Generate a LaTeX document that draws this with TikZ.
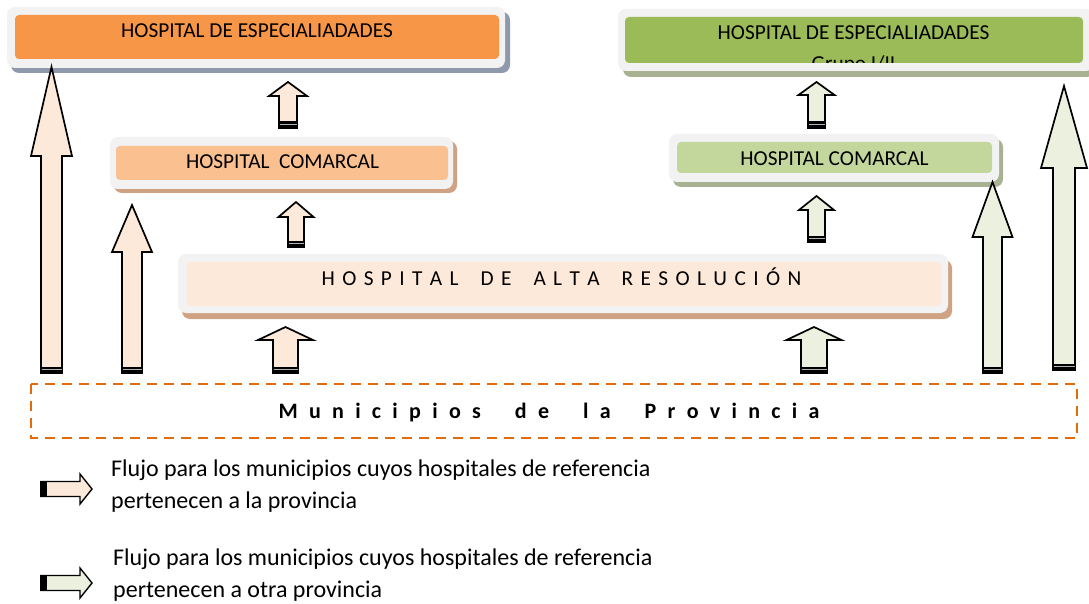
\documentclass[tikz,border=0pt]{standalone}
\usepackage{fontspec}
\setmainfont{Carlito}
\definecolor{frameC}{HTML}{F2F2F2}
\definecolor{orangeA}{HTML}{F79646}
\definecolor{orangeB}{HTML}{FAC090}
\definecolor{peach}{HTML}{FDE9D9}
\definecolor{greenA}{HTML}{9BBB59}
\definecolor{greenB}{HTML}{C3D69B}
\definecolor{paleG}{HTML}{EBF1DE}
\definecolor{shBlue}{HTML}{8E9AAB}
\definecolor{shTan}{HTML}{CFA284}
\definecolor{shGreen}{HTML}{A8B293}
\definecolor{dashO}{HTML}{E36C0A}
\newcommand{\g}{\hspace{7.4pt}}
\newcommand{\w}{\hspace{22pt}}
\newcommand{\G}{\hspace{11.3pt}}
\newcommand{\W}{\hspace{34pt}}
% #1 xc, #2 ybottom, #3 ytip, #4 shaft half, #5 head half, #6 head base y, #7 fill
\newcommand{\blockup}[7]{%
  \filldraw[fill=#7, draw=black, line width=1.7pt, line join=miter]
    (#1-#4,#2) -- (#1-#4,#6) -- (#1-#5,#6) -- (#1,#3) -- (#1+#5,#6) -- (#1+#4,#6) -- (#1+#4,#2) -- cycle;
  \fill[black] (#1-#4-0.85,#2-6.5) rectangle (#1+#4+0.85,#2+0.85);
  \draw[gray!60, line width=0.8pt] (#1-#4+0.5,#2-3.5) -- (#1+#4-0.5,#2-3.5);
}
% #1 xleft, #2 yc, #3 head base x, #4 tip x, #5 shaft half, #6 head half, #7 fill
\newcommand{\blockright}[7]{%
  \filldraw[fill=#7, draw=black, line width=1.4pt, line join=miter]
    (#1,#2-#5) -- (#3,#2-#5) -- (#3,#2-#6) -- (#4,#2) -- (#3,#2+#6) -- (#3,#2+#5) -- (#1,#2+#5) -- cycle;
  \fill[black] (#1-0.7,#2-#5-0.7) rectangle (#1+6,#2+#5+0.7);
}
\tikzset{
  boxtext/.style={anchor=base, inner sep=0pt, font=\fontsize{21.3}{25}\selectfont},
  legtext/.style={anchor=base west, inner sep=0pt, font=\fontsize{24}{29}\selectfont},
}
\begin{document}
\begin{tikzpicture}[x=1pt, y=-1pt]
\useasboundingbox (0,0) rectangle (1089,604);
\fill[white] (0,0) rectangle (1089,604);

% ---- top-left especialidades
\fill[shBlue, rounded corners=8] (11,12) rectangle (510,73);
\fill[frameC, rounded corners=8] (7,7) rectangle (505,68);
\fill[orangeA, rounded corners=4] (15,15) rectangle (499,59);
\node[boxtext] (t1) at (257,38) {HOSPITAL DE ESPECIALIADADES};

% ---- left comarcal
\fill[shTan, rounded corners=8] (114,141) rectangle (457,193);
\fill[frameC, rounded corners=8] (110,137) rectangle (453,189);
\fill[orangeB, rounded corners=4] (116,146) rectangle (448,180);
\node[boxtext] (c1) at (282.5,168.5) {HOSPITAL\ \ COMARCAL};

% ---- top-right especialidades
\fill[shGreen, rounded corners=8] (623,14) rectangle (1095,77);
\fill[frameC, rounded corners=8] (618,9) rectangle (1094,71);
\fill[greenA, rounded corners=4] (625,17) rectangle (1083,63);
\node[boxtext] (t2) at (853.5,39.5) {HOSPITAL DE ESPECIALIADADES};
\begin{scope}
  \clip (625,17) rectangle (1083,63);
  \node[boxtext] (t2b) at (853.5,70.5) {Grupo I/II};
\end{scope}

% ---- right comarcal
\fill[shGreen, rounded corners=8] (673,139) rectangle (1003,187);
\fill[frameC, rounded corners=8] (669,134) rectangle (999,182);
\fill[greenB, rounded corners=4] (677,142) rectangle (992,173);
\node[boxtext] (c2) at (834.5,165.5) {HOSPITAL COMARCAL};

% ---- alta resolucion
\fill[shTan, rounded corners=8] (182,260) rectangle (952,319);
\fill[frameC, rounded corners=8] (178,254) rectangle (948,313);
\fill[peach, rounded corners=4] (187,262) rectangle (941,306);
\node[boxtext] (hr) at (561.5,285.5) {H\g O\g S\g P\g I\g T\g A\g L\w D\g E\w A\g L\g T\g A\w R\g E\g S\g O\g L\g U\g C\g I\g Ó\g N};

% ---- municipios
\draw[dashO, line width=2pt, dash pattern=on 10pt off 7pt] (31,384) rectangle (1077,438);
\node[anchor=base, inner sep=0pt, font=\fontsize{22}{26}\selectfont\bfseries] (mun) at (549,418)
  {M\G u\G n\G i\G c\G i\G p\G i\G o\G s\W d\G e\W l\G a\W P\G r\G o\G v\G i\G n\G c\G i\G a};

% ---- arrows (peach)
\blockup{51.5}{373}{67}{10.5}{20.5}{156}{peach}
\blockup{132}{373}{205}{10}{20}{252}{peach}
\blockup{288}{128}{82}{9}{19}{96}{peach}
\blockup{296}{247}{202}{8}{17.5}{217}{peach}
\blockup{285.5}{373}{327}{12.5}{27.5}{340}{peach}
% ---- arrows (green)
\blockup{814}{373}{327}{13}{27.5}{340}{paleG}
\blockup{816.5}{242}{196}{8.5}{17.5}{210}{paleG}
\blockup{816.5}{128}{82}{8.5}{18}{95}{paleG}
\blockup{992.5}{373}{182}{9.5}{20}{237}{paleG}
\blockup{1064}{370}{86}{11}{23}{168}{paleG}

% ---- legend
\blockright{41}{489}{80}{92}{7.5}{15}{peach}
\node[legtext] (leg1a) at (111,476) {Flujo para los municipios cuyos hospitales de referencia};
\node[legtext] (leg1b) at (111,508) {pertenecen a la provincia};
\blockright{41}{583}{80}{92}{7.5}{15}{paleG}
\node[legtext] (leg2a) at (113,565) {Flujo para los municipios cuyos hospitales de referencia};
\node[legtext] (leg2b) at (113,597) {pertenecen a otra provincia};
\end{tikzpicture}
\end{document}
